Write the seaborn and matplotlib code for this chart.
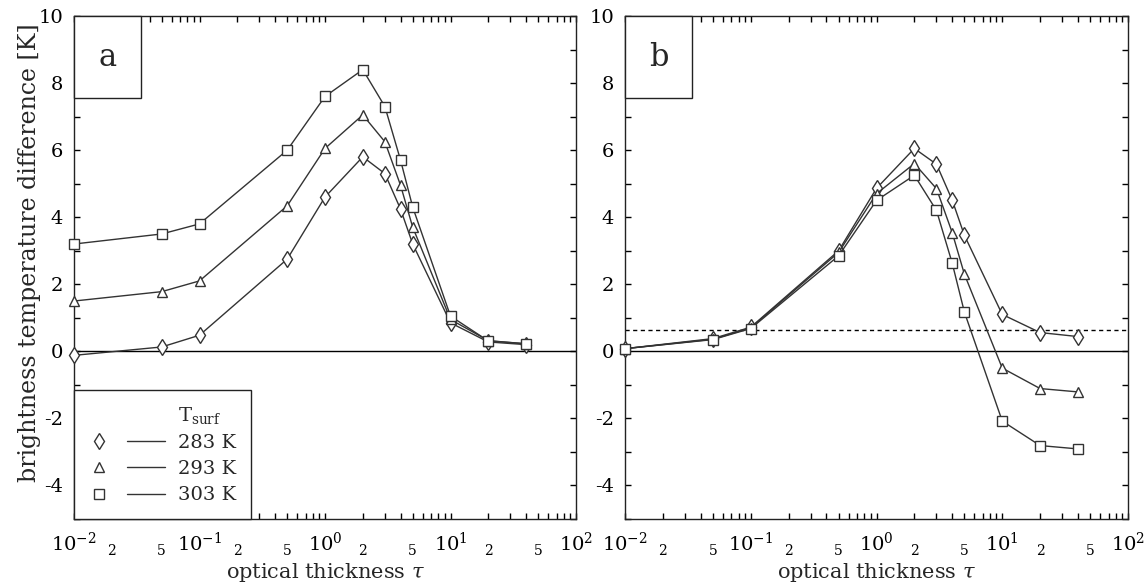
import numpy as np
import pandas as pd
import seaborn as sns
import matplotlib
matplotlib.use("Agg")
import matplotlib.pyplot as plt
from matplotlib.lines import Line2D
from matplotlib.patches import Rectangle
from matplotlib.legend_handler import HandlerBase
from matplotlib.ticker import LogLocator, FuncFormatter, MultipleLocator, FixedLocator

# ---------------- data ----------------
tau = [0.01, 0.05, 0.1, 0.5, 1, 2, 3, 4, 5, 10, 20, 40]
t_surf = ["283 K", "293 K", "303 K"]

a_283 = [-0.12, 0.13, 0.48, 2.75, 4.6, 5.8, 5.3, 4.24, 3.2, 0.85, 0.28, 0.2]
a_293 = [1.5, 1.78, 2.1, 4.34, 6.05, 7.05, 6.25, 4.95, 3.7, 0.95, 0.32, 0.22]
a_303 = [3.2, 3.5, 3.8, 6.0, 7.6, 8.4, 7.3, 5.7, 4.3, 1.05, 0.31, 0.23]

b_283 = [0.08, 0.38, 0.72, 3.0, 4.86, 6.05, 5.58, 4.51, 3.46, 1.1, 0.56, 0.44]
b_293 = [0.08, 0.36, 0.70, 2.95, 4.7, 5.6, 4.85, 3.54, 2.3, -0.5, -1.11, -1.21]
b_303 = [0.08, 0.35, 0.68, 2.85, 4.5, 5.25, 4.2, 2.63, 1.17, -2.08, -2.81, -2.91]

b_threshold = 0.63
panel_labels = ["a", "b"]
xlabel = r"optical thickness $\tau$"
ylabel = "brightness temperature difference [K]"
legend_title = r"T$_{\mathrm{surf}}$"

# ---------------- style ----------------
sns.set_theme(style="ticks")
plt.rcParams["font.family"] = ["DejaVu Serif"]
plt.rcParams["mathtext.fontset"] = "dejavuserif"
plt.rcParams["axes.linewidth"] = 1.0
plt.rcParams["axes.unicode_minus"] = False

LINE_C = "#333333"
markers = {"283 K": "d", "293 K": "^", "303 K": "s"}
msizes = {"283 K": 8.5, "293 K": 7.0, "303 K": 7.5}

fig = plt.figure(figsize=(11.45, 5.88), dpi=100)
ax_a = fig.add_axes([74 / 1145, 69 / 588, 502 / 1145, 503 / 588])
ax_b = fig.add_axes([625 / 1145, 69 / 588, 503 / 1145, 503 / 588])

def minor_fmt(x, pos):
    m = x / 10 ** np.floor(np.log10(x) + 1e-9)
    m = round(m)
    return str(m) if m in (2, 5) else ""

def setup(ax, label):
    ax.set_xscale("log")
    ax.set_xlim(1e-2, 1e2)
    ax.set_ylim(-5, 10)
    ax.xaxis.set_major_locator(FixedLocator([1e-2, 1e-1, 1e0, 1e1, 1e2]))
    ax.xaxis.set_minor_locator(LogLocator(base=10, subs=np.arange(2, 10), numticks=20))
    ax.xaxis.set_minor_formatter(FuncFormatter(minor_fmt))
    ax.yaxis.set_major_locator(MultipleLocator(2))
    ax.yaxis.set_minor_locator(MultipleLocator(1))
    ax.tick_params(which="both", direction="in", top=True, right=True,
                   length=4, width=1, colors="black")
    ax.tick_params(axis="x", which="major", labelsize=14, pad=9)
    ax.tick_params(axis="x", which="minor", labelsize=10, pad=18)
    ax.tick_params(axis="y", which="major", labelsize=14, pad=8)
    ax.axhline(0, color="black", lw=1.0, zorder=1)
    for s in ax.spines.values():
        s.set_color("#222222")
    # panel label box
    w, h = 67 / 502, 82 / 503
    ax.add_patch(Rectangle((0, 1 - h), w, h, transform=ax.transAxes,
                           facecolor="white", edgecolor="#222222", lw=1.0,
                           zorder=5, clip_on=False))
    ax.text(w / 2, 1 - h / 2, label, transform=ax.transAxes, fontsize=22,
            ha="center", va="center", zorder=6)

def draw(ax, series):
    for name, vals in zip(t_surf, series):
        df = pd.DataFrame({"tau": tau, "dT": vals})
        sns.lineplot(data=df, x="tau", y="dT", ax=ax, color=LINE_C, lw=1.0,
                     marker=markers[name], ms=msizes[name],
                     mfc="white", mec=LINE_C, mew=1.0, legend=False, zorder=3,
                     clip_on=False)
    ax.set_xlabel(xlabel, fontsize=15, labelpad=2)
    ax.set_ylabel("")

setup(ax_a, panel_labels[0])
setup(ax_b, panel_labels[1])
draw(ax_a, [a_283, a_293, a_303])
draw(ax_b, [b_283, b_293, b_303])
ax_b.axhline(b_threshold, color="black", lw=1.0, ls=(0, (3, 2.5)), zorder=1)

ax_a.set_ylabel(ylabel, fontsize=17)
ax_a.yaxis.set_label_coords(-0.066, 0.53)

# ---------------- legend ----------------
class MarkerThenLine(HandlerBase):
    def create_artists(self, legend, orig, xdescent, ydescent, width, height,
                       fontsize, trans):
        y = height / 2 - ydescent
        if orig.get_marker() in (None, "None", "none", ""):
            return [Line2D([], [], ls="none", transform=trans)]
        m = Line2D([-xdescent + 0.13 * width], [y], marker=orig.get_marker(),
                   ms=orig.get_markersize(), mfc="white", mec=LINE_C, mew=1.0,
                   ls="none", transform=trans)
        l = Line2D([-xdescent + 0.5 * width, -xdescent + 0.98 * width], [y, y],
                   color=LINE_C, lw=1.0, transform=trans)
        return [m, l]

handles = [Line2D([], [], ls="none", marker="None")]
labels = [legend_title]
for name in t_surf:
    handles.append(Line2D([], [], marker=markers[name], ms=msizes[name], ls="-"))
    labels.append(name)

leg = ax_a.legend(handles, labels, handler_map={Line2D: MarkerThenLine()},
                  loc="lower left", bbox_to_anchor=(0, 0, 177 / 502, 0.2),
                  mode="expand", borderaxespad=0, fontsize=14,
                  handlelength=4.0, handletextpad=0.6, borderpad=0.75,
                  labelspacing=0.42, frameon=True, fancybox=False)
leg.get_frame().set_edgecolor("#222222")
leg.get_frame().set_linewidth(1.0)
leg.get_frame().set_alpha(1)
leg.set_zorder(10)

fig.savefig("out.png", dpi=100)
